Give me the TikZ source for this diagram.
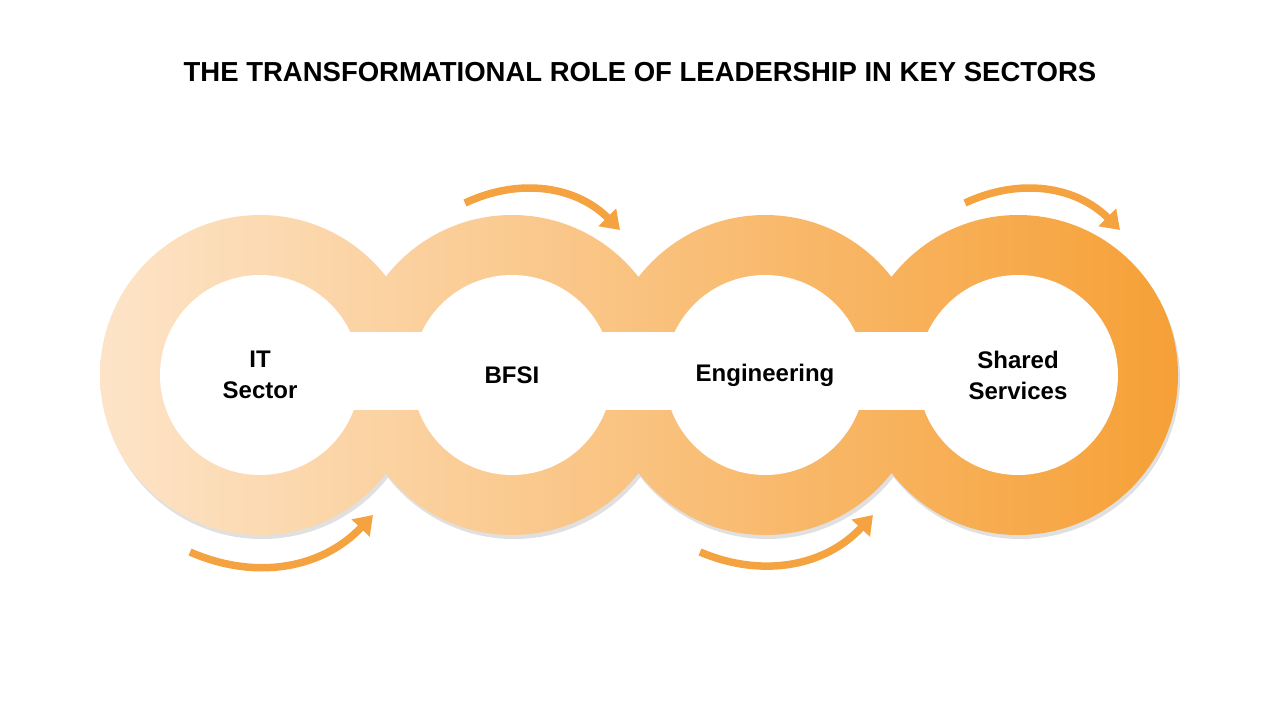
\documentclass[tikz,border=0pt]{standalone}
\usepackage{fontspec}
\setmainfont{Liberation Sans}
\usetikzlibrary{arrows.meta}
\definecolor{lightor}{HTML}{FDE4C8}
\definecolor{darkor}{HTML}{F6A036}
\definecolor{arrc}{HTML}{F5A240}
\tikzset{
  arr/.style={draw=arrc, line width=7.5pt, -{Triangle[length=18pt,width=24pt]}},
  lbl/.style={font=\fontsize{24}{31}\selectfont\bfseries, align=center, text=black}
}
\begin{document}
\begin{tikzpicture}[x=1pt,y=-1pt]
\useasboundingbox (0,0) rectangle (1280,720);
\node[font=\fontsize{27.5}{32}\selectfont\bfseries] (title) at (640,72) {THE TRANSFORMATIONAL ROLE OF LEADERSHIP IN KEY SECTORS};
\fill[black!12] (262,379) circle (160) (514,379) circle (160) (767,379) circle (160) (1020,379) circle (160);
\begin{scope}
\clip (260,375) circle (160) (512,375) circle (160) (765,375) circle (160) (1018,375) circle (160);
\shade[left color=lightor, right color=darkor] (100,200) rectangle (1180,540);
\end{scope}
\fill[white] (260,375) circle (100) (512,375) circle (100) (765,375) circle (100) (1018,375) circle (100);
\fill[white] (260,332) rectangle (1018,410);
\node[lbl] (it) at (260,375) {IT\\Sector};
\node[lbl] (bfsi) at (512,375) {BFSI};
\node[lbl] (eng) at (765,375) {Engineering};
\node[lbl] (ss) at (1018,375) {Shared\\Services};
\coordinate (t1s) at (465,203); \coordinate (t1e) at (620,230);
\coordinate (t2s) at (965,203); \coordinate (t2e) at (1120,230);
\coordinate (b1s) at (190,552); \coordinate (b1e) at (373,515);
\coordinate (b2s) at (700,552); \coordinate (b2e) at (873,515);
\draw[arr] (t1s) to[bend left=35] (t1e);
\draw[arr] (t2s) to[bend left=35] (t2e);
\draw[arr] (b1s) to[bend right=35] (b1e);
\draw[arr] (b2s) to[bend right=35] (b2e);
\end{tikzpicture}
\end{document}
